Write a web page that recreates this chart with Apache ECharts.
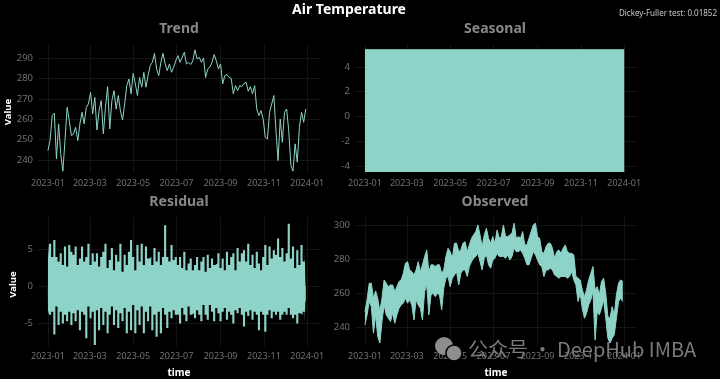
<!DOCTYPE html>
<html>
<head>
<meta charset="utf-8">
<style>
	html, body { margin: 0; padding: 0; background: #000; }
	#main { width: 720px; height: 379px; }
</style>
<script src="https://cdn.jsdelivr.net/npm/echarts@6/dist/echarts.min.js"></script>
</head>
<body>
<div id="main"></div>
<script>
// 读图估计的数据, 每3天一个点 (2023-01-01 起)
var monthTicks = ['2023-01-01', '2023-03-01', '2023-05-01', '2023-07-01', '2023-09-01', '2023-11-01', '2024-01-01'];

var trend = [244.6, 249.5, 261.8, 262.9, 240.5, 257.7, 243, 234.5, 249.5, 265.8, 259.3, 252, 252.8, 256, 249.5, 257.7, 263.4, 257.7, 265.8, 267.5,
	273.2, 262.6, 270.7, 254.7, 264.2, 269.1, 252.8, 265.8, 276, 255.2, 269.1, 274, 265, 271.6, 264.2, 259.6, 267.5, 276.5, 279.7, 272.4,
	282.5, 277.3, 271.6, 280.5, 275.7, 283, 275.7, 281.4, 286.3, 287.9, 292.3, 284.6, 281.4, 287.9, 292.3, 287.1, 283.8, 287.1, 283,
	285.5, 288.7, 291.2, 287.9, 290.4, 292.8, 287.1, 287.9, 286.8, 288.7, 294, 289.5, 290.4, 287.9, 290, 280.5, 284.6, 285.5, 287.9, 291.7,
	288.7, 284.6, 287.1, 277.3, 281.4, 281.9, 280.5, 280, 272.4, 276.5, 274, 276.5, 276, 277.6, 278.1, 273.7, 276, 272.4, 276.5, 265,
	261.8, 264.2, 260.1, 251.1, 250.3, 263.4, 267.5, 271.6, 254.4, 239.7, 260.1, 248.7, 263.4, 265, 254.4, 237.3, 234.5, 247.9, 238.9, 256,
	263.4, 258.5, 265];

var seasonalHigh = [5.4, 5.4, 5.4, 5.4, 5.4, 5.4, 5.4];
var seasonalLow = [-4.45, -4.45, -4.45, -4.45, -4.45, -4.45, -4.45];

var residualHigh = [3.8, 5.8, 4, 6.3, 4, 3.4, 4.5, 2.9, 5.4, 2.7, 5.6, 4.7, 4.3, 5.4, 2.9, 3.8, 5.4, 3.4, 4, 5.8,
	2.9, 4.5, 3.4, 4.5, 2.7, 4, 4.7, 5.8, 2.5, 3.6, 5.2, 2.2, 4.3, 3.4, 5.8, 2, 4.3, 2.9, 4.7, 6.3,
	4, 2.2, 5.6, 3.4, 5.8, 2.9, 5.4, 3.8, 4, 2.9, 5.2, 3.4, 4.7, 2.9, 4, 8.3, 4, 3.4, 5.6, 3.6, 4,
	2.9, 4, 2.5, 4.7, 2.2, 3.1, 3.8, 2.2, 2.9, 4, 2.2, 3.4, 4, 2, 4.3, 2.5, 3.8, 2.9, 3.1, 4.5,
	2.5, 3.8, 2.2, 4.7, 2.9, 4, 4.5, 2.2, 5.2, 3.4, 4.5, 4.9, 3.4, 5.8, 2.9, 4.3, 2.5, 4.7, 3.1, 2.2,
	4, 5.6, 2.9, 5.4, 3.8, 4.9, 4.3, 6.5, 4, 5.2, 3.4, 4.5, 8.5, 3.8, 5.4, 2.5, 4.9, 2.9, 5.6, 3.4, 4.7];

var residualLow = [-3.2, -3.8, -3.4, -6.5, -2.7, -5.2, -3.4, -5, -3.8, -4.7, -3.4, -5.2, -3.6, -4.7, -3.2, -5.9, -3.4, -3.8, -7, -2.7,
	-4.3, -3.4, -7.9, -3.2, -5.9, -2.9, -5.2, -3.4, -6.3, -3.8, -2.7, -5.2, -3.2, -5.6, -3.6, -4.7, -2.9, -6.3, -3.4, -5.9,
	-2.5, -6.3, -3.2, -5.2, -2.7, -6.3, -3.4, -4.7, -2.7, -5.9, -3.8, -6.8, -3.4, -6.3, -2.9, -3.8, -5.6, -3.4, -4.3, -3.2, -3.8,
	-3.8, -5, -2.9, -3.8, -4.7, -2.7, -3.8, -3.6, -4.3, -3.2, -3.8, -4.7, -2.5, -3.8, -4.5, -2.5, -3.4, -4.7, -2.9, -3.6,
	-4.7, -3.4, -2.9, -4.5, -3.4, -3.8, -5, -3.2, -3.6, -2.9, -3.8, -5.4, -3.4, -4, -3.2, -4.5, -3.4, -3.8, -5.9, -3.4,
	-3.8, -6.1, -3.8, -3.2, -4.3, -3.4, -3.8, -3.4, -4.5, -3.8, -3.4, -3.8, -2.9, -3.8, -4.3, -3.8, -5, -3.6, -3.8, -3.4, -5];

var observedHigh = [249.2, 256.1, 265.9, 265.9, 257.1, 261.4, 257.1, 249.2, 257.1, 267.9, 265.9, 263.9, 264.9, 264.9, 261, 263.9, 266.9, 267.9, 271.8, 277.7,
	278.7, 273.8, 272.8, 270.8, 273.8, 278.7, 272.8, 276.8, 281.7, 285.6, 272.8, 276.8, 276.8, 275.8, 276.8, 276.8, 271.8, 273.8, 281.7, 286.6,
	284.6, 280.7, 289.6, 289.6, 284.6, 285.6, 289.6, 290.5, 284.6, 288.6, 292.5, 294.5, 296.5, 300.4, 294.5, 287.6, 294.5, 298.4, 292.5, 289.6, 293.5, 289.6,
	297.4, 292.5, 293.5, 300.4, 293.5, 293.5, 294.5, 295.5, 301.4, 292.5, 293.5, 292.5, 296.5, 288.6, 288.6, 292.5, 296.5, 300.4, 301.4, 293.5,
	292.5, 284.6, 283.6, 287.6, 289.6, 289.6, 286.6, 280.7, 284.6, 285.6, 283.6, 286.6, 288.6, 284.6, 283.6, 283.6, 282.7, 269.9, 268.9, 267.9,
	262, 258, 262, 267.9, 271.8, 275.8, 262, 263.9, 259, 266.9, 268.9, 260, 246.2, 245.2, 252.1, 247.2, 259, 265.9, 267.9, 266.9];

var observedLow = [241.3, 247.2, 255.1, 252.1, 236.4, 247.2, 234.4, 230.5, 243.3, 253.1, 247.2, 245.2, 243.3, 248.2, 242.3, 247.2, 251.1, 253.1, 254.1, 257.1,
	254.1, 256.1, 253.1, 244.2, 256.1, 253.1, 251.1, 244.2, 261, 264.9, 247.2, 259, 260, 258, 260, 259, 250.2, 263, 268.9, 269.9,
	263.9, 268.9, 270.8, 272.8, 264.9, 271.8, 273.8, 273.8, 269.9, 275.8, 278.7, 280.7, 281.7, 283.6, 278.7, 273.8, 280.7, 282.7, 276.8, 274.8, 279.7, 280.7,
	283.6, 281.7, 281.7, 281.7, 280.7, 282.7, 279.7, 281.7, 286.6, 284.6, 284.6, 285.6, 283.6, 280.7, 276.8, 276.8, 280.7, 284.6, 282.7, 279.7,
	276.8, 275.8, 269.9, 273.8, 273.8, 274.8, 273.8, 270.8, 269.9, 268.9, 269.9, 269.9, 269.9, 268.9, 269.9, 272.8, 267.9, 264.9, 255.1, 260,
	251.1, 245.2, 248.2, 253.1, 256.1, 261, 232.4, 249.2, 247.2, 251.1, 256.1, 245.2, 233.4, 230.5, 233.4, 235.4, 245.2, 255.1, 257.1, 255.1];

var mint = '#8dd3c7';
var gridColor = '#141414';
var fontName = '"Noto Sans", sans-serif';
var startDay = new Date('2023-01-01T00:00:00Z').getTime();
var xMin = new Date('2022-12-18T00:00:00Z').getTime();
var xMax = new Date('2024-01-19T00:00:00Z').getTime();

function toTime(s) {
	return new Date(s + 'T00:00:00Z').getTime();
}
var monthTimes = monthTicks.map(toTime);

// 把数组配上日期
function withDates(arr) {
	return arr.map(function (v, i) {
		return [startDay + i * 3 * 86400000, v];
	});
}
function monthly(arr) {
	return arr.map(function (v, i) {
		return [monthTimes[i], v];
	});
}
// 堆叠只认第一个数值维度, 所以值放前面
function valueFirst(arr) {
	return arr.map(function (v, i) {
		return [v, startDay + i * 3 * 86400000];
	});
}

function lineSeries(idx, data, extra) {
	var s = {
		type: 'line',
		xAxisIndex: idx,
		yAxisIndex: idx,
		data: data,
		showSymbol: false,
		symbol: 'none',
		silent: true,
		animation: false,
		lineStyle: { color: mint, width: 1 }
	};
	for (var k in extra) {
		s[k] = extra[k];
	}
	return s;
}

// x轴用value类型存时间戳, 时间轴不支持自定义刻度
function makeX(idx, name) {
	return {
		type: 'value',
		gridIndex: idx,
		min: xMin,
		max: xMax,
		name: name,
		nameLocation: 'middle',
		nameGap: 22,
		nameTextStyle: { color: '#fff', fontFamily: fontName, fontWeight: 'bold', fontSize: 10 },
		axisLine: { show: false },
		axisTick: { show: false, customValues: monthTimes },
		axisLabel: {
			color: '#727272',
			fontFamily: fontName,
			fontSize: 9,
			margin: 6,
			hideOverlap: false,
			customValues: monthTimes,
			formatter: function (v) {
				var d = new Date(v);
				var m = d.getUTCMonth() + 1;
				return d.getUTCFullYear() + '-' + (m < 10 ? '0' + m : m);
			}
		},
		splitLine: { show: true, lineStyle: { color: gridColor, width: 1 } }
	};
}

function makeY(idx, min, max, ticks, name) {
	return {
		type: 'value',
		gridIndex: idx,
		min: min,
		max: max,
		name: name,
		nameLocation: 'middle',
		nameGap: idx == 0 ? 24 : 20,
		nameTextStyle: { color: '#fff', fontFamily: fontName, fontWeight: 'bold', fontSize: 9.5, padding: [0, 6, 0, 0] },
		axisLine: { show: false },
		axisTick: { show: false, customValues: ticks },
		axisLabel: { color: '#727272', fontFamily: fontName, fontSize: 9.5, margin: 5, customValues: ticks },
		splitLine: { show: true, lineStyle: { color: gridColor, width: 1 } }
	};
}

function subTitle(text, left, top) {
	return {
		text: text,
		left: left,
		top: top,
		textAlign: 'center',
		textStyle: { color: '#878787', fontFamily: fontName, fontWeight: 'bold', fontSize: 14 }
	};
}

var observedBand = observedHigh.map(function (v, i) {
	return v - observedLow[i];
});

var option = {
	backgroundColor: '#000',
	title: [
		{ text: 'Air Temperature', left: 344, top: -2, textAlign: 'center', textStyle: { color: '#fff', fontFamily: fontName, fontWeight: 'bold', fontSize: 14 } },
		{ text: 'Dickey-Fuller test: 0.01852', left: 712, top: 5, textAlign: 'right', textStyle: { color: '#c8c8c8', fontFamily: fontName, fontWeight: 'normal', fontSize: 8 } },
		subTitle('Trend', 174, 17),
		subTitle('Seasonal', 490, 17),
		subTitle('Residual', 174, 190),
		subTitle('Observed', 490, 190)
	],
	grid: [
		{ left: 38, top: 45, width: 282, height: 128 },
		{ left: 355, top: 45, width: 282, height: 128 },
		{ left: 38, top: 217, width: 282, height: 129 },
		{ left: 355, top: 217, width: 282, height: 129 }
	],
	xAxis: [makeX(0, ''), makeX(1, ''), makeX(2, 'time'), makeX(3, 'time')],
	yAxis: [
		makeY(0, 233.6, 296.4, [240, 250, 260, 270, 280, 290], 'Value'),
		makeY(1, -4.57, 5.78, [-4, -2, 0, 2, 4], ''),
		makeY(2, -8.04, 9.4, [-5, 0, 5], 'Value'),
		makeY(3, 228.8, 305.1, [240, 260, 280, 300], '')
	],
	series: [
		lineSeries(0, withDates(trend)),
		lineSeries(1, monthly(seasonalHigh), { areaStyle: { color: mint, opacity: 1, origin: seasonalLow[0] } }),
		lineSeries(1, monthly(seasonalLow)),
		lineSeries(2, withDates(residualHigh), { step: 'middle', lineStyle: { width: 0 }, areaStyle: { color: mint, opacity: 1, origin: -2 } }),
		lineSeries(2, withDates(residualLow), { step: 'middle', lineStyle: { width: 0 }, areaStyle: { color: mint, opacity: 1, origin: 0 } }),
		lineSeries(3, valueFirst(observedLow), { stack: 'observed', encode: { x: 1, y: 0 } }),
		lineSeries(3, valueFirst(observedBand), { stack: 'observed', encode: { x: 1, y: 0 }, areaStyle: { color: mint, opacity: 1 } })
	],
	graphic: [
		{ type: 'circle', shape: { cx: 444, cy: 346, r: 9 }, style: { fill: '#8e8e8e' }, z: 100 },
		{ type: 'circle', shape: { cx: 454, cy: 353, r: 8 }, style: { fill: '#8e8e8e', stroke: '#000', lineWidth: 1.5 }, z: 101 },
		{ type: 'text', style: { x: 468, y: 349, text: '公众号 · DeepHub IMBA', fill: '#7a7a7a', font: '20px "Noto Sans CJK SC", "Noto Sans", sans-serif', textVerticalAlign: 'middle' }, z: 102 }
	]
};

var chart = echarts.init(document.getElementById('main'));
chart.setOption(option);
</script>
</body>
</html>
